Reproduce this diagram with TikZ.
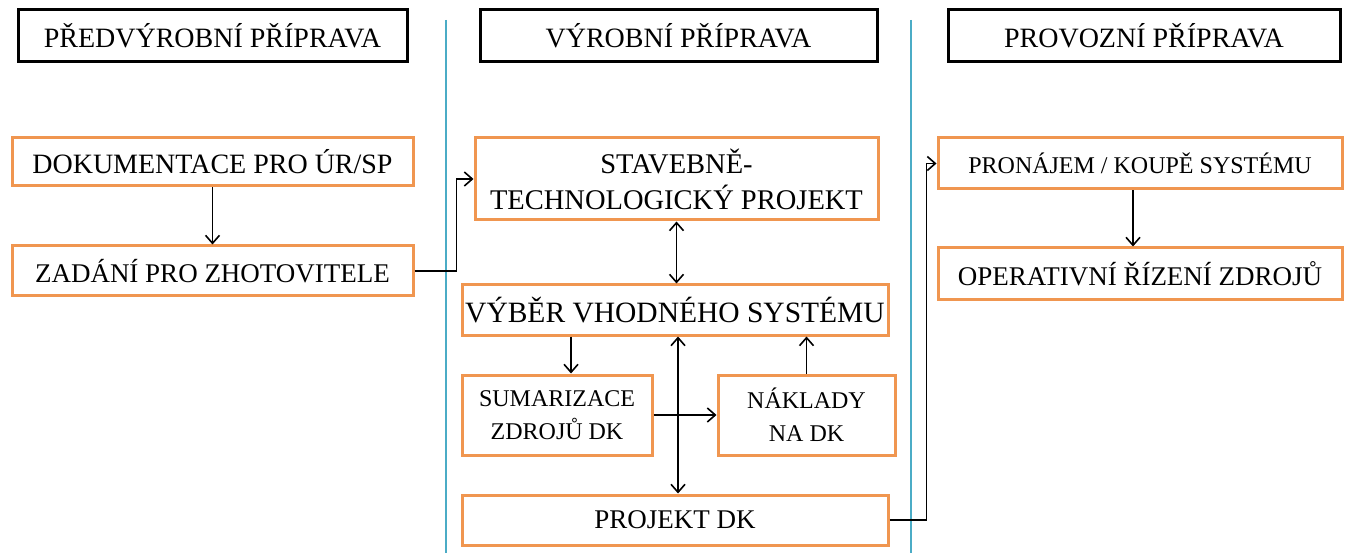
\documentclass[tikz,border=0pt]{standalone}
\usepackage{fontspec}
\setmainfont{Liberation Serif}
\usetikzlibrary{arrows.meta}

\definecolor{boxorange}{RGB}{240,150,80}
\definecolor{laneteal}{RGB}{75,172,198}

\begin{document}
\begin{tikzpicture}[
        x=1pt, y=-1pt,
        % Define styles
        headbox/.style={draw=black, line width=3pt, inner sep=0pt,
            minimum height=52pt, font=\fontsize{28}{32}\selectfont},
        stepbox/.style={draw=boxorange, line width=3pt, inner sep=0pt,
            align=center, font=\fontsize{27}{36}\selectfont},
        smallstep/.style={stepbox, font=\fontsize{24}{33}\selectfont},
        connector/.style={black, line width=1.6pt,
            -{Straight Barb[length=8pt,width=14pt]}},
        twoway/.style={connector, {Straight Barb[length=8pt,width=14pt]}-{Straight Barb[length=8pt,width=14pt]}},
        divider/.style={laneteal, line width=1.5pt}
    ]

        \useasboundingbox (0,0) rectangle (1349,553);

        % --- Lane dividers ---
        \draw[divider] (446,20) -- (446,553);
        \draw[divider] (911,20) -- (911,553);

        % --- Lane headers ---
        \node[headbox, minimum width=389pt] (head_pre) at (212.5,36) {PŘEDVÝROBNÍ PŘÍPRAVA};
        \node[headbox, minimum width=397pt] (head_vyr) at (678.5,36) {VÝROBNÍ PŘÍPRAVA};
        \node[headbox, minimum width=392pt] (head_pro) at (1144,36) {PROVOZNÍ PŘÍPRAVA};

        % --- Left lane ---
        \node[stepbox, minimum width=401pt, minimum height=48pt,
            font=\fontsize{28}{32}\selectfont] (dokum) at (212.5,162) {DOKUMENTACE PRO ÚR/SP};
        \node[stepbox, minimum width=401pt, minimum height=50pt] (zadani) at (212.5,271) {ZADÁNÍ PRO ZHOTOVITELE};

        % --- Middle lane ---
        \node[stepbox, minimum width=403pt, minimum height=82pt,
            font=\fontsize{28.5}{36}\selectfont] (stavtech) at (676.5,179) {STAVEBNĚ-\\TECHNOLOGICKÝ PROJEKT};
        \node[stepbox, minimum width=426pt, minimum height=50pt,
            font=\fontsize{29.5}{32}\selectfont] (vyber) at (675,310) {VÝBĚR VHODNÉHO SYSTÉMU};
        \node[smallstep, minimum width=190pt, minimum height=80pt] (sumar) at (557,415) {SUMARIZACE\\ZDROJŮ DK};
        \node[smallstep, minimum width=177pt, minimum height=80pt] (naklady) at (806.5,415) {NÁKLADY\\NA DK};
        \node[stepbox, minimum width=426pt, minimum height=50pt] (projdk) at (675,520) {PROJEKT DK};

        % --- Right lane ---
        \node[smallstep, minimum width=404pt, minimum height=51pt] (pronajem) at (1140,163.5) {PRONÁJEM / KOUPĚ SYSTÉMU};
        \node[stepbox, minimum width=404pt, minimum height=52pt] (operat) at (1140,274) {OPERATIVNÍ ŘÍZENÍ ZDROJŮ};

        % --- Draw Edges ---
        \draw[connector] (dokum) -- (zadani);
        \draw[connector] (zadani.east) -- ++(42,0) |- (stavtech.west);
        \draw[twoway] (stavtech.south) -- (stavtech.south |- vyber.north);
        \draw[connector] ([xshift=14pt]sumar.north |- vyber.south) -- ([xshift=14pt]sumar.north);
        \draw[connector] (naklady.north) -- (naklady.north |- vyber.south);
        \draw[twoway] ([xshift=3pt]vyber.south) -- ([xshift=3pt]projdk.north);
        \draw[connector] (sumar.east) -- (naklady.west);
        \draw[connector] (projdk.east) -- ++(37,0) |- (pronajem.west);
        \draw[connector] (pronajem.south -| operat.north) ++(-7,0) coordinate (pron_out) -- (pron_out |- operat.north);

    \end{tikzpicture}
\end{document}
